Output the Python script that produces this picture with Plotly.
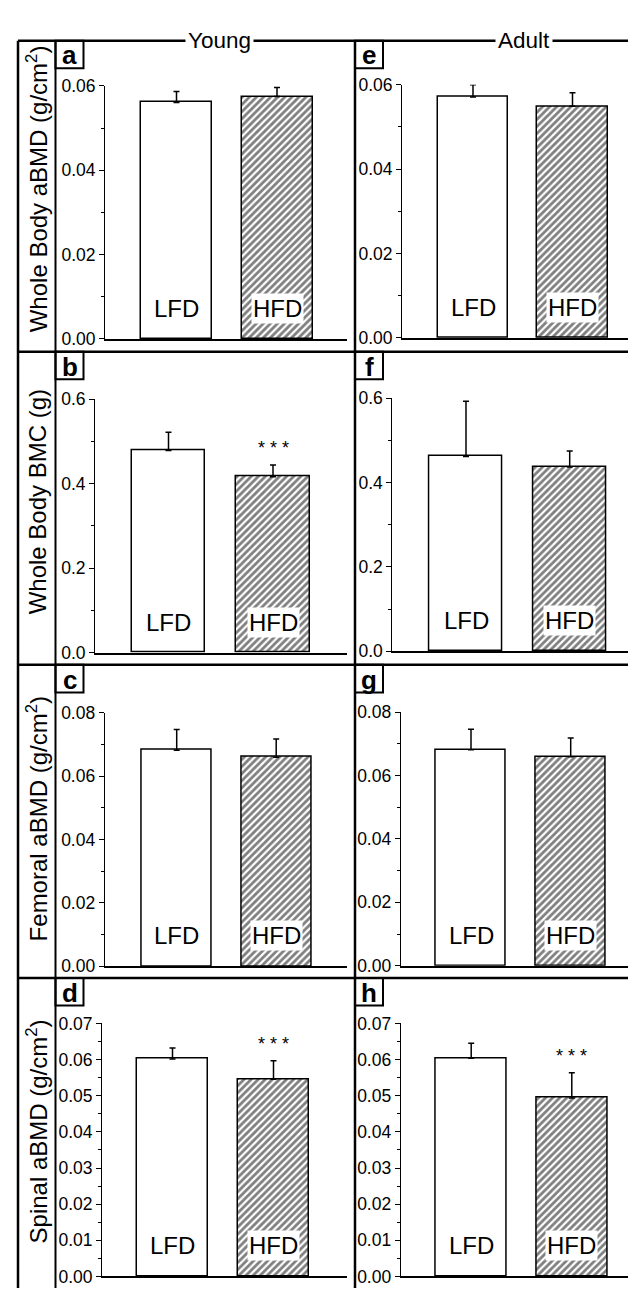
import plotly.graph_objects as go

# ---------------- data ----------------
groups = ["LFD", "HFD"]
ages = ["Young", "Adult"]
measures = [
    "Whole Body aBMD (g/cm<sup>2</sup>)",
    "Whole Body BMC (g)",
    "Femoral aBMD (g/cm<sup>2</sup>)",
    "Spinal aBMD (g/cm<sup>2</sup>)",
]
letters_young = ["a", "b", "c", "d"]
letters_adult = ["e", "f", "g", "h"]

young_lfd = [0.0561, 0.479, 0.0682, 0.0602]
young_lfd_err = [0.0026, 0.043, 0.0065, 0.0030]
young_hfd = [0.0575, 0.4166, 0.0660, 0.0546]
young_hfd_err = [0.0021, 0.028, 0.0057, 0.0051]
adult_lfd = [0.0571, 0.4617, 0.0681, 0.0604]
adult_lfd_err = [0.0029, 0.1306, 0.0065, 0.0041]
adult_hfd = [0.0549, 0.4368, 0.0659, 0.0494]
adult_hfd_err = [0.0032, 0.038, 0.0059, 0.0070]

sig_young = ["", "***", "", "***"]
sig_adult = ["", "", "", "***"]

y_max = [0.06, 0.6, 0.08, 0.07]
y_major = [0.02, 0.2, 0.02, 0.01]
y_fmt = [".2f", ".1f", ".2f", ".2f"]

# ---------------- layout geometry (pixels) ----------------
W, H = 636, 1290
FONT = "Liberation Sans, Arial, sans-serif"
GEOM = {
    "a": dict(x0=97, x1=339, ytop=69, ybot=326, c0=168.5, c1=269, bw=71),
    "e": dict(x0=394, x1=634, ytop=67.7, ybot=325, c0=465, c1=564.5, bw=70.5),
    "b": dict(x0=87, x1=339, ytop=387.3, ybot=644.7, c0=160.5, c1=265, bw=73.5),
    "f": dict(x0=384.3, x1=634, ytop=386, ybot=643.3, c0=458, c1=561.7, bw=73),
    "c": dict(x0=96.7, x1=339, ytop=705.7, ybot=963.3, c0=168.7, c1=268.2, bw=70),
    "g": dict(x0=392.7, x1=634, ytop=705, ybot=962.7, c0=463, c1=562.7, bw=70),
    "d": dict(x0=94, x1=339, ytop=1021.3, ybot=1278.3, c0=164.5, c1=265.5, bw=71),
    "h": dict(x0=392.7, x1=634, ytop=1021.3, ybot=1278.3, c0=463.2, c1=563.8, bw=71),
}
ROW_TOPS = [23, 339, 657, 975]
TITLE_CENTERS = [174, 492, 814, 1131]
COL_X = [47.5, 347]
HEADER_X = [211.5, 516]


def px(x):
    return x / W


def py(y):
    return 1 - y / H


fig = go.Figure()
annotations = []
shapes = []
layout_axes = {}

for r in range(4):
    for c in range(2):
        n = r * 2 + c + 1
        sx = "" if n == 1 else str(n)
        letter = letters_young[r] if c == 0 else letters_adult[r]
        if c == 0:
            vals = [young_lfd[r], young_hfd[r]]
            errs = [young_lfd_err[r], young_hfd_err[r]]
            sig = ["", sig_young[r]]
        else:
            vals = [adult_lfd[r], adult_hfd[r]]
            errs = [adult_lfd_err[r], adult_hfd_err[r]]
            sig = ["", sig_adult[r]]
        g = GEOM[letter]
        scale = g["c1"] - g["c0"]
        xr = [(g["x0"] - g["c0"]) / scale, (g["x1"] - g["c0"]) / scale]
        bw = g["bw"] / scale

        fig.add_trace(go.Bar(
            x=[0, 1], y=vals, width=[bw, bw],
            xaxis="x" + sx, yaxis="y" + sx,
            marker=dict(
                color="white",
                line=dict(color="black", width=1.5),
                pattern=dict(shape=["", "/"], fgcolor="black", bgcolor="white",
                             size=5, solidity=0.55),
            ),
            error_y=dict(type="data", array=errs, arrayminus=[0, 0], symmetric=False,
                         color="black", thickness=1.5, width=3),
            cliponaxis=False, showlegend=False, hoverinfo="skip",
        ))

        layout_axes["xaxis" + sx] = dict(
            domain=[px(g["x0"]), px(g["x1"])], range=xr, anchor="y" + sx,
            showline=True, linecolor="black", linewidth=1.5,
            showticklabels=False, ticks="", showgrid=False, zeroline=False,
            fixedrange=True,
        )
        layout_axes["yaxis" + sx] = dict(
            domain=[py(g["ybot"]), py(g["ytop"])], range=[0, y_max[r]],
            anchor="x" + sx,
            showline=True, linecolor="black", linewidth=1,
            ticks="outside", ticklen=5, tickwidth=1, tickcolor="black",
            tick0=0, dtick=y_major[r], tickformat=y_fmt[r],
            tickfont=dict(family=FONT, size=17.5, color="black"),
            minor=dict(ticks="outside", ticklen=3, tickwidth=1, tickcolor="black",
                       dtick=y_major[r] / 2, showgrid=False),
            showgrid=False, zeroline=False, fixedrange=True,
        )

        # group labels inside bars
        for i, grp in enumerate(groups):
            annotations.append(dict(
                x=i, y=0, xref="x" + sx, yref="y" + sx,
                text=grp, showarrow=False, yanchor="bottom", yshift=15,
                font=dict(family=FONT, size=24, color="black"),
                bgcolor="white", borderpad=1,
            ))
            if sig[i]:
                annotations.append(dict(
                    x=i, y=vals[i] + errs[i], xref="x" + sx, yref="y" + sx,
                    text=" ".join(sig[i]), showarrow=False, yanchor="bottom", yshift=5,
                    font=dict(family=FONT, size=18, color="black"),
                ))

        # panel letter box
        cx = COL_X[c]
        top = ROW_TOPS[r]
        shapes.append(dict(type="rect", xref="paper", yref="paper",
                           x0=px(cx), x1=px(cx + 28), y0=py(top + 28), y1=py(top),
                           line=dict(color="black", width=2), fillcolor="white"))
        annotations.append(dict(
            x=px(cx + 14), y=py(top + 15), xref="paper", yref="paper",
            text="<b>%s</b>" % letter, showarrow=False,
            xanchor="center", yanchor="middle",
            font=dict(family=FONT, size=26, color="black"),
        ))

    # row y-axis title
    annotations.append(dict(
        x=px(29), y=py(TITLE_CENTERS[r]), xref="paper", yref="paper",
        text=measures[r], showarrow=False, textangle=-90,
        xanchor="center", yanchor="middle",
        font=dict(family=FONT, size=24, color="black"),
    ))

# frame lines
LW = 2.5
shapes.append(dict(type="line", xref="paper", yref="paper",
                   x0=px(10), x1=px(636), y0=py(23), y1=py(23),
                   line=dict(color="black", width=LW)))
for yl in ROW_TOPS[1:]:
    shapes.append(dict(type="line", xref="paper", yref="paper",
                       x0=px(10), x1=px(636), y0=py(yl), y1=py(yl),
                       line=dict(color="black", width=LW)))
for xl, wd in [(10, LW), (47.5, 2), (347, LW)]:
    shapes.append(dict(type="line", xref="paper", yref="paper",
                       x0=px(xl), x1=px(xl), y0=py(23), y1=py(1290),
                       line=dict(color="black", width=wd)))

# column headers
for c, age in enumerate(ages):
    annotations.append(dict(
        x=px(HEADER_X[c]), y=py(23), xref="paper", yref="paper",
        text=age, showarrow=False, xanchor="center", yanchor="middle",
        font=dict(family=FONT, size=22.5, color="black"),
        bgcolor="white", borderpad=2,
    ))

fig.update_layout(
    width=W, height=H,
    margin=dict(l=0, r=0, t=0, b=0),
    paper_bgcolor="white", plot_bgcolor="white",
    showlegend=False, bargap=0,
    annotations=annotations, shapes=shapes,
    **layout_axes,
)

fig.write_html("out.html")
